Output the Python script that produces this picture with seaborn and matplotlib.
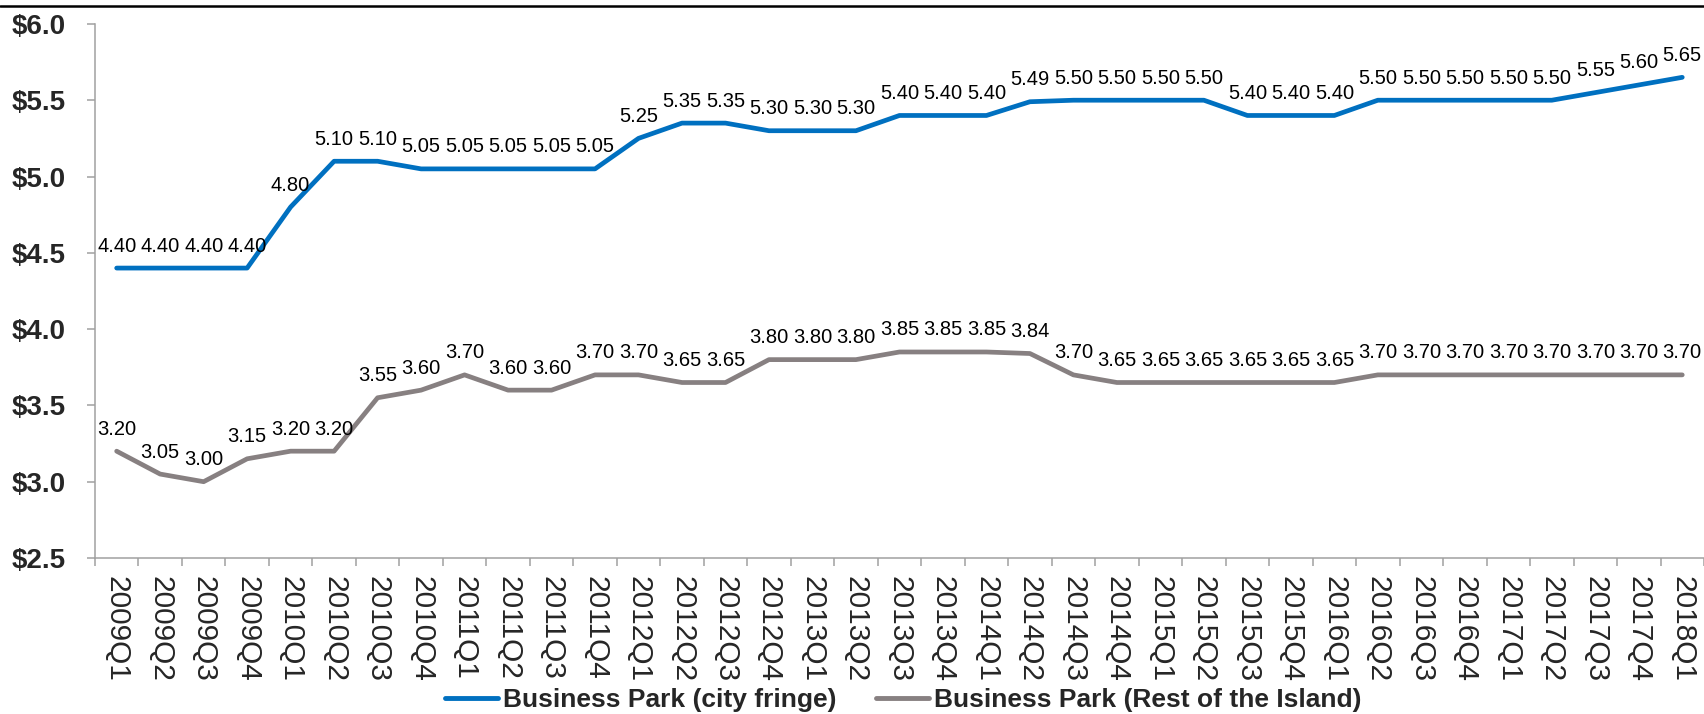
import pandas as pd
import matplotlib
matplotlib.use("Agg")
from matplotlib import pyplot as plt
from matplotlib.lines import Line2D
from matplotlib.ticker import FixedLocator, FuncFormatter
import seaborn as sns

# Quarterly rents for the two business park segments
quarters = [f"{y}Q{q}" for y in range(2009, 2018) for q in range(1, 5)] + ["2018Q1"]
city_fringe = [4.40, 4.40, 4.40, 4.40, 4.80, 5.10, 5.10, 5.05, 5.05, 5.05, 5.05, 5.05,
               5.25, 5.35, 5.35, 5.30, 5.30, 5.30, 5.40, 5.40, 5.40, 5.49, 5.50, 5.50,
               5.50, 5.50, 5.40, 5.40, 5.40, 5.50, 5.50, 5.50, 5.50, 5.50, 5.55, 5.60, 5.65]
rest_of_island = [3.20, 3.05, 3.00, 3.15, 3.20, 3.20, 3.55, 3.60, 3.70, 3.60, 3.60, 3.70,
                  3.70, 3.65, 3.65, 3.80, 3.80, 3.80, 3.85, 3.85, 3.85, 3.84, 3.70, 3.65,
                  3.65, 3.65, 3.65, 3.65, 3.65, 3.70, 3.70, 3.70, 3.70, 3.70, 3.70, 3.70, 3.70]
series_names = ["Business Park (city fringe)", "Business Park (Rest of the Island)"]
colors = ["#0070C0", "#878081"]

# Long-form table for seaborn
df = pd.concat([
    pd.DataFrame({"Quarter": quarters, "Rent": city_fringe, "Series": series_names[0]}),
    pd.DataFrame({"Quarter": quarters, "Rent": rest_of_island, "Series": series_names[1]}),
])

sns.set_theme(style="white")
plt.rcParams["font.family"] = ["Liberation Sans", "DejaVu Sans"]

fig = plt.figure(figsize=(17.04, 7.14), dpi=100)
ax = fig.add_axes([0.0557, 0.2185, 0.9443, 0.748])

sns.lineplot(data=df, x="Quarter", y="Rent", hue="Series", palette=colors,
             linewidth=3.4, sort=False, ax=ax)

# Data labels above every point
for vals in (city_fringe, rest_of_island):
    for i, v in enumerate(vals):
        ax.annotate(f"{v:.2f}", (i, v), xytext=(0, 9), textcoords="offset points",
                    ha="center", va="bottom", fontsize=14.5, color="black")

# Axes styling
ax.set_ylim(2.5, 6.0)
ax.set_xlim(-0.5, len(quarters) - 0.5)
ax.set_yticks([2.5, 3.0, 3.5, 4.0, 4.5, 5.0, 5.5, 6.0])
ax.yaxis.set_major_formatter(FuncFormatter(lambda v, p: f"${v:.1f}"))
ax.set_xticks(range(len(quarters)))
ax.set_xticklabels(quarters, rotation=270)
ax.xaxis.set_minor_locator(FixedLocator([i - 0.5 for i in range(len(quarters) + 1)]))
ax.tick_params(axis="x", which="major", length=0, pad=13, labelsize=21.5)
ax.tick_params(axis="x", which="minor", length=6, width=1.1, color="#A0A0A0", bottom=True)
ax.tick_params(axis="y", length=6, width=1.1, color="#A0A0A0", left=True, pad=15)
for lab in ax.get_yticklabels():
    lab.set_fontweight("bold")
    lab.set_fontsize(20)
ax.set_xlabel("")
ax.set_ylabel("")
for side in ("top", "right"):
    ax.spines[side].set_visible(False)
for side in ("left", "bottom"):
    ax.spines[side].set_color("#A0A0A0")
    ax.spines[side].set_linewidth(1.1)

# Legend along the bottom
ax.get_legend().remove()
handles = [Line2D([], [], color=c, linewidth=3.5, solid_capstyle="round") for c in colors]
fig.legend(handles, series_names, loc="center", bbox_to_anchor=(0.53, 0.019), ncol=2,
           frameon=False, prop={"weight": "bold", "size": 19}, handlelength=2.0,
           handletextpad=0.2, columnspacing=1.5, borderaxespad=0)

# Thin rule across the top
fig.add_artist(Line2D([0, 1], [0.991, 0.991], color="black", linewidth=1.8,
                      transform=fig.transFigure))

fig.savefig("out.png", dpi=100)
